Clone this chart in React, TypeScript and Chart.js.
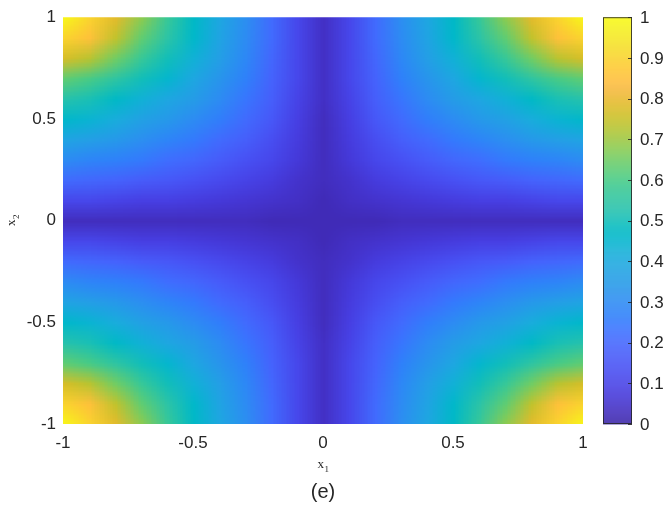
import React, { useEffect, useRef } from "react";
import { Chart, registerables } from "chart.js";

Chart.register(...registerables);

// grid coordinates
const x1Values = [-1, -0.9, -0.8, -0.7, -0.6, -0.5, -0.4, -0.3, -0.2, -0.1, 0, 0.1, 0.2, 0.3, 0.4, 0.5, 0.6, 0.7, 0.8, 0.9, 1];
const x2Values = [1, 0.9, 0.8, 0.7, 0.6, 0.5, 0.4, 0.3, 0.2, 0.1, 0, -0.1, -0.2, -0.3, -0.4, -0.5, -0.6, -0.7, -0.8, -0.9, -1];

// values; rows follow x2Values (top to bottom), columns follow x1Values
const zValues: number[][] = [
  [0.99, 0.90, 0.79, 0.68, 0.57, 0.47, 0.39, 0.31, 0.21, 0.11, 0.04, 0.11, 0.21, 0.31, 0.39, 0.47, 0.57, 0.68, 0.79, 0.90, 0.99],
  [0.90, 0.85, 0.74, 0.63, 0.54, 0.46, 0.38, 0.30, 0.21, 0.11, 0.04, 0.11, 0.21, 0.30, 0.38, 0.46, 0.54, 0.63, 0.74, 0.85, 0.90],
  [0.77, 0.73, 0.65, 0.57, 0.50, 0.43, 0.36, 0.29, 0.20, 0.11, 0.04, 0.11, 0.20, 0.29, 0.36, 0.43, 0.50, 0.57, 0.65, 0.73, 0.77],
  [0.63, 0.60, 0.55, 0.50, 0.45, 0.39, 0.33, 0.27, 0.19, 0.11, 0.04, 0.11, 0.19, 0.27, 0.33, 0.39, 0.45, 0.50, 0.55, 0.60, 0.63],
  [0.53, 0.51, 0.47, 0.43, 0.39, 0.35, 0.30, 0.24, 0.18, 0.10, 0.04, 0.10, 0.18, 0.24, 0.30, 0.35, 0.39, 0.43, 0.47, 0.51, 0.53],
  [0.46, 0.44, 0.41, 0.37, 0.34, 0.30, 0.26, 0.21, 0.16, 0.09, 0.03, 0.09, 0.16, 0.21, 0.26, 0.30, 0.34, 0.37, 0.41, 0.44, 0.46],
  [0.38, 0.36, 0.34, 0.31, 0.28, 0.25, 0.21, 0.18, 0.13, 0.08, 0.03, 0.08, 0.13, 0.18, 0.21, 0.25, 0.28, 0.31, 0.34, 0.36, 0.38],
  [0.30, 0.28, 0.27, 0.25, 0.22, 0.20, 0.17, 0.14, 0.11, 0.07, 0.03, 0.07, 0.11, 0.14, 0.17, 0.20, 0.22, 0.25, 0.27, 0.28, 0.30],
  [0.21, 0.20, 0.19, 0.17, 0.16, 0.14, 0.12, 0.10, 0.08, 0.05, 0.03, 0.05, 0.08, 0.10, 0.12, 0.14, 0.16, 0.17, 0.19, 0.20, 0.21],
  [0.11, 0.11, 0.10, 0.09, 0.09, 0.08, 0.07, 0.06, 0.05, 0.04, 0.02, 0.04, 0.05, 0.06, 0.07, 0.08, 0.09, 0.09, 0.10, 0.11, 0.11],
  [0.03, 0.03, 0.03, 0.03, 0.03, 0.03, 0.03, 0.03, 0.02, 0.02, 0.02, 0.02, 0.02, 0.03, 0.03, 0.03, 0.03, 0.03, 0.03, 0.03, 0.03],
  [0.11, 0.11, 0.10, 0.09, 0.09, 0.08, 0.07, 0.06, 0.05, 0.04, 0.02, 0.04, 0.05, 0.06, 0.07, 0.08, 0.09, 0.09, 0.10, 0.11, 0.11],
  [0.21, 0.20, 0.19, 0.17, 0.16, 0.14, 0.12, 0.10, 0.08, 0.05, 0.03, 0.05, 0.08, 0.10, 0.12, 0.14, 0.16, 0.17, 0.19, 0.20, 0.21],
  [0.30, 0.28, 0.27, 0.25, 0.22, 0.20, 0.17, 0.14, 0.11, 0.07, 0.03, 0.07, 0.11, 0.14, 0.17, 0.20, 0.22, 0.25, 0.27, 0.28, 0.30],
  [0.38, 0.36, 0.34, 0.31, 0.28, 0.25, 0.21, 0.18, 0.13, 0.08, 0.03, 0.08, 0.13, 0.18, 0.21, 0.25, 0.28, 0.31, 0.34, 0.36, 0.38],
  [0.46, 0.44, 0.41, 0.37, 0.34, 0.30, 0.26, 0.21, 0.16, 0.09, 0.03, 0.09, 0.16, 0.21, 0.26, 0.30, 0.34, 0.37, 0.41, 0.44, 0.46],
  [0.53, 0.51, 0.47, 0.43, 0.39, 0.35, 0.30, 0.24, 0.18, 0.10, 0.04, 0.10, 0.18, 0.24, 0.30, 0.35, 0.39, 0.43, 0.47, 0.51, 0.53],
  [0.63, 0.60, 0.55, 0.50, 0.45, 0.39, 0.33, 0.27, 0.19, 0.11, 0.04, 0.11, 0.19, 0.27, 0.33, 0.39, 0.45, 0.50, 0.55, 0.60, 0.63],
  [0.77, 0.73, 0.65, 0.57, 0.50, 0.43, 0.36, 0.29, 0.20, 0.11, 0.04, 0.11, 0.20, 0.29, 0.36, 0.43, 0.50, 0.57, 0.65, 0.73, 0.77],
  [0.90, 0.85, 0.74, 0.63, 0.54, 0.46, 0.38, 0.30, 0.21, 0.11, 0.04, 0.11, 0.21, 0.30, 0.38, 0.46, 0.54, 0.63, 0.74, 0.85, 0.90],
  [0.99, 0.90, 0.79, 0.68, 0.57, 0.47, 0.39, 0.31, 0.21, 0.11, 0.04, 0.11, 0.21, 0.31, 0.39, 0.47, 0.57, 0.68, 0.79, 0.90, 0.99],
];

const axisTicks = [-1, -0.5, 0, 0.5, 1];
const axisTickLabels = ["-1", "-0.5", "0", "0.5", "1"];
const colorbarTicks = [0, 0.1, 0.2, 0.3, 0.4, 0.5, 0.6, 0.7, 0.8, 0.9, 1];
const colorbarLabels = ["0", "0.1", "0.2", "0.3", "0.4", "0.5", "0.6", "0.7", "0.8", "0.9", "1"];
const xLabel = ["x", "1"];
const yLabel = ["x", "2"];
const panelLabel = "(e)";

// parula colormap (64 entries)
const parula: number[][] = [
  [0.2422, 0.1504, 0.6603], [0.2504, 0.1650, 0.7076], [0.2578, 0.1818, 0.7511], [0.2647, 0.1978, 0.7952],
  [0.2706, 0.2147, 0.8364], [0.2751, 0.2342, 0.8710], [0.2783, 0.2559, 0.8991], [0.2803, 0.2782, 0.9221],
  [0.2813, 0.3006, 0.9414], [0.2810, 0.3228, 0.9579], [0.2795, 0.3447, 0.9717], [0.2760, 0.3667, 0.9829],
  [0.2699, 0.3892, 0.9906], [0.2602, 0.4123, 0.9952], [0.2440, 0.4358, 0.9988], [0.2206, 0.4603, 0.9973],
  [0.1963, 0.4847, 0.9892], [0.1834, 0.5074, 0.9798], [0.1786, 0.5289, 0.9682], [0.1764, 0.5499, 0.9520],
  [0.1687, 0.5703, 0.9359], [0.1540, 0.5902, 0.9218], [0.1460, 0.6091, 0.9079], [0.1380, 0.6276, 0.8973],
  [0.1248, 0.6459, 0.8883], [0.1113, 0.6635, 0.8763], [0.0952, 0.6798, 0.8598], [0.0689, 0.6948, 0.8394],
  [0.0297, 0.7082, 0.8163], [0.0036, 0.7203, 0.7917], [0.0067, 0.7312, 0.7660], [0.0433, 0.7411, 0.7394],
  [0.0964, 0.7500, 0.7120], [0.1408, 0.7584, 0.6842], [0.1717, 0.7670, 0.6554], [0.1938, 0.7758, 0.6251],
  [0.2161, 0.7843, 0.5923], [0.2470, 0.7918, 0.5567], [0.2906, 0.7973, 0.5188], [0.3406, 0.8008, 0.4789],
  [0.3909, 0.8029, 0.4354], [0.4456, 0.8024, 0.3909], [0.5044, 0.7993, 0.3480], [0.5616, 0.7942, 0.3045],
  [0.6174, 0.7876, 0.2612], [0.6720, 0.7793, 0.2227], [0.7242, 0.7698, 0.1910], [0.7738, 0.7598, 0.1646],
  [0.8203, 0.7498, 0.1535], [0.8634, 0.7406, 0.1596], [0.9035, 0.7330, 0.1774], [0.9393, 0.7288, 0.2100],
  [0.9728, 0.7298, 0.2394], [0.9956, 0.7434, 0.2371], [0.9970, 0.7659, 0.2199], [0.9952, 0.7893, 0.2028],
  [0.9892, 0.8136, 0.1885], [0.9786, 0.8386, 0.1766], [0.9676, 0.8639, 0.1643], [0.9610, 0.8890, 0.1537],
  [0.9597, 0.9135, 0.1423], [0.9628, 0.9373, 0.1265], [0.9691, 0.9606, 0.1064], [0.9769, 0.9839, 0.0805],
];

function colorOf(v: number): [number, number, number] {
  const t = Math.max(0, Math.min(1, v)) * (parula.length - 1);
  const i = Math.floor(t);
  const j = Math.min(parula.length - 1, i + 1);
  const f = t - i;
  const a = parula[i];
  const b = parula[j];
  return [
    Math.round((a[0] + (b[0] - a[0]) * f) * 255),
    Math.round((a[1] + (b[1] - a[1]) * f) * 255),
    Math.round((a[2] + (b[2] - a[2]) * f) * 255),
  ];
}

const TEXT = "#262626";

const heatmapPlugin = {
  id: "heatmap",
  beforeDatasetsDraw(chart: any) {
    const { ctx, chartArea, scales } = chart;
    const xs = scales.x;
    const ys = scales.y;
    const nx = x1Values.length;
    const ny = x2Values.length;
    const off = document.createElement("canvas");
    off.width = nx;
    off.height = ny;
    const octx = off.getContext("2d")!;
    const img = octx.createImageData(nx, ny);
    for (let r = 0; r < ny; r++) {
      for (let c = 0; c < nx; c++) {
        const [R, G, B] = colorOf(zValues[r][c]);
        const k = (r * nx + c) * 4;
        img.data[k] = R;
        img.data[k + 1] = G;
        img.data[k + 2] = B;
        img.data[k + 3] = 255;
      }
    }
    octx.putImageData(img, 0, 0);
    const dx = (x1Values[1] - x1Values[0]) / 2;
    const dy = (x2Values[0] - x2Values[1]) / 2;
    const left = xs.getPixelForValue(x1Values[0] - dx);
    const right = xs.getPixelForValue(x1Values[nx - 1] + dx);
    const top = ys.getPixelForValue(x2Values[0] + dy);
    const bottom = ys.getPixelForValue(x2Values[ny - 1] - dy);
    ctx.save();
    ctx.beginPath();
    ctx.rect(chartArea.left, chartArea.top, chartArea.right - chartArea.left, chartArea.bottom - chartArea.top);
    ctx.clip();
    ctx.imageSmoothingEnabled = true;
    ctx.drawImage(off, left, top, right - left, bottom - top);
    ctx.restore();
  },
  afterDraw(chart: any) {
    const { ctx, chartArea } = chart;
    // colorbar
    const cbLeft = 603;
    const cbRight = 632;
    const cbTop = chartArea.top;
    const cbBottom = chartArea.bottom;
    const h = cbBottom - cbTop;
    ctx.save();
    for (let py = 0; py < h; py++) {
      const v = 1 - (py + 0.5) / h;
      const [R, G, B] = colorOf(v);
      ctx.fillStyle = `rgb(${R},${G},${B})`;
      ctx.fillRect(cbLeft, cbTop + py, cbRight - cbLeft, 1.2);
    }
    ctx.strokeStyle = "rgba(38,38,38,0.85)";
    ctx.lineWidth = 1;
    ctx.strokeRect(cbLeft + 0.5, cbTop + 0.5, cbRight - cbLeft - 1, h - 1);
    ctx.font = "17px 'Liberation Sans', Arial, sans-serif";
    ctx.fillStyle = TEXT;
    ctx.textAlign = "left";
    ctx.textBaseline = "middle";
    colorbarTicks.forEach((t, i) => {
      const y = cbBottom - t * h;
      ctx.beginPath();
      ctx.moveTo(cbRight - 4, Math.round(y) + 0.5);
      ctx.lineTo(cbRight, Math.round(y) + 0.5);
      ctx.stroke();
      ctx.fillText(colorbarLabels[i], cbRight + 8, y + 1);
    });
    // axis labels
    const cx = (chartArea.left + chartArea.right) / 2;
    ctx.textAlign = "left";
    ctx.textBaseline = "alphabetic";
    ctx.font = "13px 'Liberation Serif', 'Times New Roman', serif";
    const wx = ctx.measureText(xLabel[0]).width;
    ctx.font = "9px 'Liberation Serif', 'Times New Roman', serif";
    const ws = ctx.measureText(xLabel[1]).width;
    const start = cx - (wx + ws) / 2;
    ctx.font = "13px 'Liberation Serif', 'Times New Roman', serif";
    ctx.fillText(xLabel[0], start, 468);
    ctx.font = "9px 'Liberation Serif', 'Times New Roman', serif";
    ctx.fillText(xLabel[1], start + wx + 0.5, 472);

    ctx.save();
    ctx.translate(15, (chartArea.top + chartArea.bottom) / 2);
    ctx.rotate(-Math.PI / 2);
    ctx.font = "13px 'Liberation Serif', 'Times New Roman', serif";
    ctx.fillText(yLabel[0], -(wx + ws) / 2, 0);
    ctx.font = "9px 'Liberation Serif', 'Times New Roman', serif";
    ctx.fillText(yLabel[1], -(wx + ws) / 2 + wx + 0.5, 4);
    ctx.restore();

    ctx.font = "20px 'Liberation Sans', Arial, sans-serif";
    ctx.textAlign = "center";
    ctx.textBaseline = "middle";
    ctx.fillText(panelLabel, cx, 492);
    ctx.restore();
  },
};

export default function App() {
  const ref = useRef<HTMLCanvasElement>(null);
  useEffect(() => {
    document.body.style.margin = "0";
    const canvas = ref.current!;
    const points: { x: number; y: number }[] = [];
    x2Values.forEach((y) => x1Values.forEach((x) => points.push({ x, y })));
    const tickLabel = (value: any) => {
      const k = axisTicks.indexOf(Number(value));
      return k >= 0 ? axisTickLabels[k] : "";
    };
    const chart = new Chart(canvas, {
      type: "scatter",
      data: {
        datasets: [{ data: points, pointRadius: 0, pointHoverRadius: 0, showLine: false }],
      },
      options: {
        animation: false,
        responsive: false,
        events: [],
        layout: { padding: { left: 0, right: 81, top: 9, bottom: 0 } },
        plugins: { legend: { display: false }, tooltip: { enabled: false } },
        scales: {
          x: {
            type: "linear",
            min: -1,
            max: 1,
            afterFit: (s: any) => { s.height = 84; },
            afterBuildTicks: (s: any) => { s.ticks = axisTicks.map((v) => ({ value: v })); },
            grid: { display: false, drawTicks: false },
            border: { display: false },
            ticks: { color: TEXT, padding: 9, callback: tickLabel, font: { size: 17, family: "'Liberation Sans', Arial, sans-serif" } },
          },
          y: {
            type: "linear",
            min: -1,
            max: 1,
            afterFit: (s: any) => { s.width = 63; },
            afterBuildTicks: (s: any) => { s.ticks = axisTicks.map((v) => ({ value: v })); },
            grid: { display: false, drawTicks: false },
            border: { display: false },
            ticks: { color: TEXT, padding: 7, callback: tickLabel, font: { size: 17, family: "'Liberation Sans', Arial, sans-serif" } },
          },
        },
      },
      plugins: [heatmapPlugin],
    });
    return () => chart.destroy();
  }, []);
  return (
    <div style={{ position: "absolute", left: 0, top: 0, width: 664, height: 508, background: "#fff" }}>
      <canvas ref={ref} width={664} height={508} />
    </div>
  );
}
